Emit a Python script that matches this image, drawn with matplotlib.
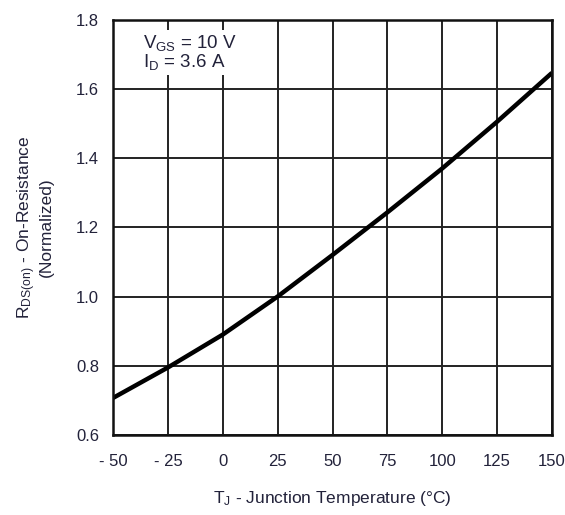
import matplotlib
matplotlib.use("Agg")
import matplotlib.pyplot as plt

temps = [-50, -25, 0, 25, 50, 75, 100, 125, 150]
rds_norm = [0.707, 0.795, 0.89, 1.0, 1.12, 1.243, 1.37, 1.505, 1.646]
x_ticks = [-50, -25, 0, 25, 50, 75, 100, 125, 150]
x_tick_labels = ["- 50", "- 25", "0", "25", "50", "75", "100", "125", "150"]
y_ticks = [0.6, 0.8, 1.0, 1.2, 1.4, 1.6, 1.8]
y_tick_labels = ["0.6", "0.8", "1.0", "1.2", "1.4", "1.6", "1.8"]

plt.rcParams['font.family'] = ['Liberation Sans', 'DejaVu Sans']
plt.rcParams['mathtext.fontset'] = 'custom'
plt.rcParams['mathtext.rm'] = 'Liberation Sans'
plt.rcParams['mathtext.it'] = 'Liberation Sans:italic'

txt = '#22223a'
fig = plt.figure(figsize=(5.65, 5.15), dpi=100)
ax = fig.add_axes([0.2, 0.1553, 0.777, 0.8068])

ax.plot(temps, rds_norm, color='black', lw=3.2, solid_capstyle='butt',
        solid_joinstyle='round', zorder=3)
ax.set_xlim(-50, 150)
ax.set_ylim(0.6, 1.8)
ax.set_xticks(x_ticks)
ax.set_xticklabels(x_tick_labels)
ax.set_yticks(y_ticks)
ax.set_yticklabels(y_tick_labels)
ax.tick_params(length=0, labelsize=12, labelcolor=txt)
ax.tick_params(axis='x', pad=14)
ax.tick_params(axis='y', pad=10)
ax.grid(True, color='#222222', lw=1.4)
for s in ax.spines.values():
    s.set_linewidth(1.8)
    s.set_color('#111111')
    s.set_zorder(4)

ax.set_xlabel(r'T$_{\mathregular{J}}$ - Junction Temperature (°C)', fontsize=12.5, color=txt, labelpad=14)
ax.set_ylabel(r'R$_{\mathregular{DS(on)}}$ - On-Resistance' + '\n(Normalized)', fontsize=12.5,
              color=txt, labelpad=16, linespacing=1.05)

ax.text(-36.5, 1.762, r'V$_{\mathregular{GS}}$ = 10 V' + '\n' + r'I$_{\mathregular{D}}$ = 3.6 A',
        fontsize=13.5, color=txt, va='top', ha='left', linespacing=0.95, zorder=5,
        bbox=dict(facecolor='white', edgecolor='none', pad=2))

fig.savefig('out.png', dpi=100)
